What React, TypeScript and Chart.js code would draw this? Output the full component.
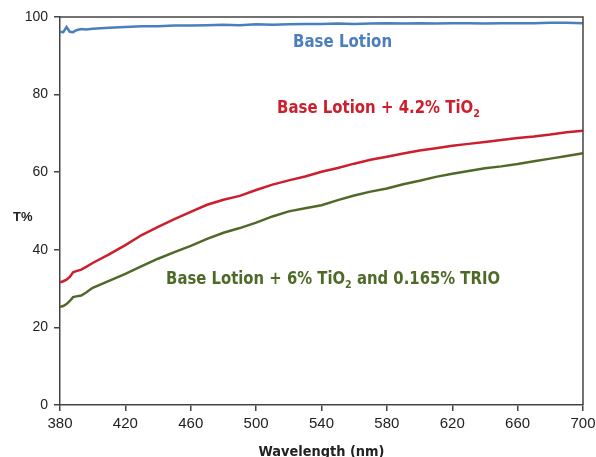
import React, { useEffect, useRef } from "react";
import { Chart, registerables } from "chart.js";

Chart.register(...registerables);

const wavelengths = [380, 382, 384, 386, 388, 390, 393, 396, 400, 410, 420, 430, 440, 450, 460, 470, 480, 490, 500, 510, 520, 530, 540, 550, 560, 570, 580, 590, 600, 610, 620, 630, 640, 650, 660, 670, 680, 690, 700];

const baseLotion = [96.2, 96.1, 97.4, 96.2, 96.1, 96.6, 96.9, 96.8, 97.0, 97.2, 97.4, 97.6, 97.6, 97.8, 97.8, 97.9, 98.0, 97.9, 98.1, 98.0, 98.1, 98.2, 98.2, 98.3, 98.2, 98.3, 98.4, 98.3, 98.4, 98.3, 98.4, 98.4, 98.3, 98.4, 98.4, 98.4, 98.5, 98.5, 98.4];

const tio2 = [31.6, 31.9, 32.3, 33.0, 34.2, 34.5, 34.9, 35.6, 36.6, 38.8, 41.2, 43.8, 45.9, 47.9, 49.8, 51.6, 52.9, 53.9, 55.4, 56.8, 57.9, 58.9, 60.1, 61.1, 62.2, 63.2, 64.0, 64.8, 65.6, 66.2, 66.8, 67.3, 67.8, 68.3, 68.8, 69.2, 69.7, 70.3, 70.7];

const tio2Trio = [25.3, 25.5, 26.0, 26.8, 27.8, 28.0, 28.2, 29.0, 30.2, 32.0, 33.8, 35.8, 37.7, 39.4, 41.0, 42.8, 44.4, 45.6, 47.0, 48.6, 49.9, 50.7, 51.5, 52.8, 54.0, 55.0, 55.8, 56.9, 57.8, 58.8, 59.6, 60.3, 61.0, 61.5, 62.1, 62.8, 63.5, 64.2, 64.9];

const BLUE = "#4a7ebd";
const RED = "#cc1f2e";
const GREEN = "#4f6a28";
const AXIS = "#444444";

type Part = { t: string; sub?: boolean };
type Label = { parts: Part[]; x: number; y: number; color: string; width: number };

const labels: Label[] = [
  { parts: [{ t: "Base Lotion" }], x: 522.6, y: 92.3, color: BLUE, width: 99 },
  { parts: [{ t: "Base Lotion + 4.2% TiO" }, { t: "2", sub: true }], x: 512.8, y: 75.3, color: RED, width: 203 },
  { parts: [{ t: "Base Lotion + 6% TiO" }, { t: "2", sub: true }, { t: " and 0.165% TRIO" }], x: 444.9, y: 31.2, color: GREEN, width: 334 },
];

const LABEL_FONT = "bold 17px 'DejaVu Sans', sans-serif";
const SUB_FONT = "bold 11px 'DejaVu Sans', sans-serif";

const overlayPlugin = {
  id: "overlay",
  afterDraw(chart: any) {
    const { ctx, chartArea, scales } = chart;
    ctx.save();
    // frame top + right
    ctx.strokeStyle = AXIS;
    ctx.lineWidth = 1.5;
    ctx.beginPath();
    ctx.moveTo(chartArea.left, chartArea.top);
    ctx.lineTo(chartArea.right, chartArea.top);
    ctx.lineTo(chartArea.right, chartArea.bottom);
    ctx.stroke();

    // series labels
    for (const lab of labels) {
      let natural = 0;
      for (const p of lab.parts) {
        ctx.font = p.sub ? SUB_FONT : LABEL_FONT;
        natural += ctx.measureText(p.t).width;
      }
      const sx = lab.width / natural;
      const px = scales.x.getPixelForValue(lab.x);
      const py = scales.y.getPixelForValue(lab.y);
      ctx.save();
      ctx.translate(px, py);
      ctx.scale(sx, 1);
      ctx.fillStyle = lab.color;
      ctx.textBaseline = "alphabetic";
      ctx.textAlign = "left";
      let cx = 0;
      for (const p of lab.parts) {
        ctx.font = p.sub ? SUB_FONT : LABEL_FONT;
        ctx.fillText(p.t, cx, p.sub ? 4 : 0);
        cx += ctx.measureText(p.t).width;
      }
      ctx.restore();
    }

    // y title
    ctx.fillStyle = "#222";
    ctx.font = "bold 13px 'Liberation Sans', Arial, sans-serif";
    ctx.textAlign = "left";
    ctx.textBaseline = "alphabetic";
    ctx.fillText("T%", 13, 221);

    // x title
    ctx.font = "bold 14px 'DejaVu Sans Condensed', 'DejaVu Sans', sans-serif";
    ctx.textAlign = "center";
    const w = ctx.measureText("Wavelength (nm)").width;
    ctx.save();
    const cxp = (chartArea.left + chartArea.right) / 2;
    ctx.translate(cxp, 456);
    ctx.scale(126 / w, 1);
    ctx.fillText("Wavelength (nm)", 0, 0);
    ctx.restore();
    ctx.restore();
  },
};

export default function App() {
  const ref = useRef<HTMLCanvasElement | null>(null);
  useEffect(() => {
    if (!ref.current) return;
    const toPts = (arr: number[]) => arr.map((v, i) => ({ x: wavelengths[i], y: v }));
    const chart = new Chart(ref.current, {
      type: "line",
      data: {
        datasets: [
          { label: "Base Lotion", data: toPts(baseLotion), borderColor: BLUE, borderWidth: 2.5, pointRadius: 0, tension: 0 },
          { label: "Base Lotion + 4.2% TiO2", data: toPts(tio2), borderColor: RED, borderWidth: 2.5, pointRadius: 0, tension: 0 },
          { label: "Base Lotion + 6% TiO2 and 0.165% TRIO", data: toPts(tio2Trio), borderColor: GREEN, borderWidth: 2.5, pointRadius: 0, tension: 0 },
        ],
      },
      options: {
        animation: false,
        responsive: false,
        maintainAspectRatio: false,
        layout: { padding: { left: 0, right: 13, top: 17, bottom: 0 } },
        plugins: { legend: { display: false }, tooltip: { enabled: false } },
        scales: {
          x: {
            type: "linear",
            min: 380,
            max: 700,
            ticks: { stepSize: 40, color: "#222", padding: 4, font: { family: "'Liberation Sans', Arial, sans-serif", size: 15 }, maxRotation: 0 },
            grid: { drawOnChartArea: false, drawTicks: true, tickLength: 6, color: AXIS, lineWidth: 1.5 },
            border: { color: AXIS, width: 1.5 },
            afterFit: (s: any) => { s.height = 52; s.paddingRight = 0; s.paddingLeft = 0; },
          },
          y: {
            min: 0,
            max: 100,
            ticks: { stepSize: 20, color: "#222", padding: 6, font: { family: "'Liberation Sans', Arial, sans-serif", size: 14 } },
            grid: { drawOnChartArea: false, drawTicks: true, tickLength: 6, color: AXIS, lineWidth: 1.5 },
            border: { color: AXIS, width: 1.5 },
            afterFit: (s: any) => { s.width = 60; s.paddingTop = 0; s.paddingBottom = 0; },
          },
        },
      },
      plugins: [overlayPlugin],
    } as any);
    return () => chart.destroy();
  }, []);
  return (
    <div style={{ position: "fixed", left: 0, top: 0, width: 596, height: 457, background: "#fff" }}>
      <canvas ref={ref} width={596} height={457} style={{ width: 596, height: 457 }} />
    </div>
  );
}
